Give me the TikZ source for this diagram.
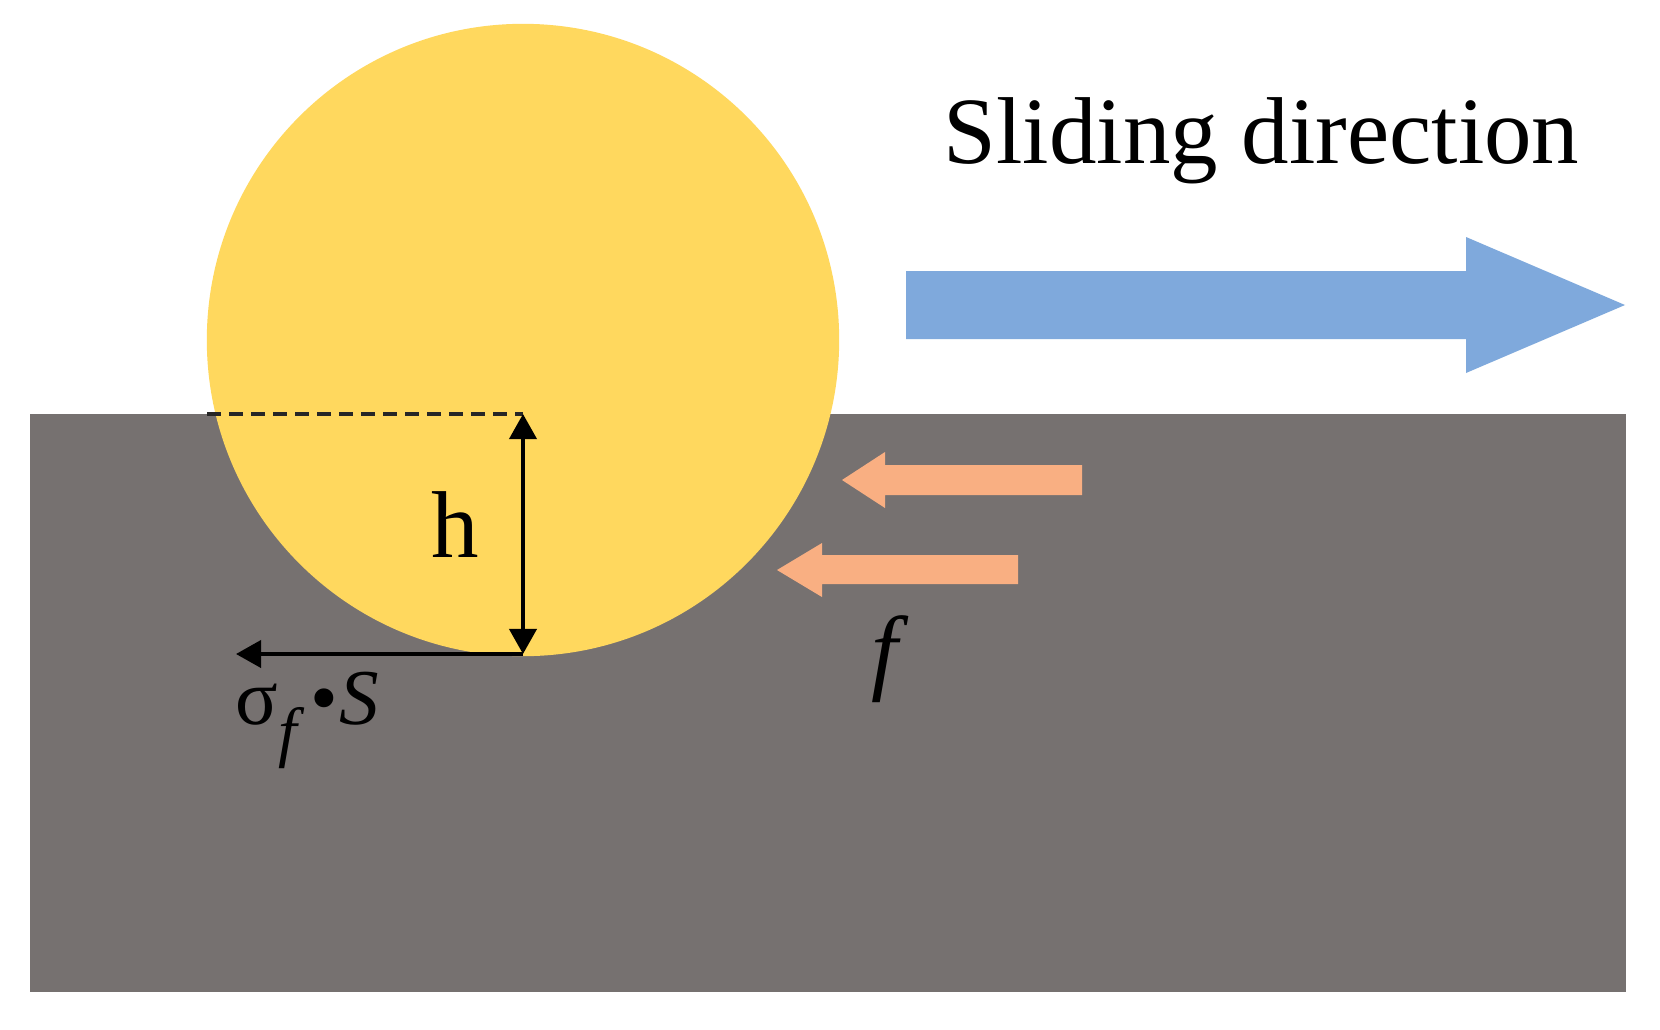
\documentclass[tikz,border=0pt]{standalone}
\usepackage{fontspec}
\setmainfont{Liberation Serif}
\usetikzlibrary{arrows.meta}
\definecolor{ballyellow}{HTML}{FFD85E}
\definecolor{subgray}{HTML}{767170}
\definecolor{slideblue}{HTML}{7FA9DC}
\definecolor{frictionorange}{HTML}{F9AF82}
\begin{document}
\begin{tikzpicture}[x=0.01cm,y=-0.01cm,
  >={Triangle[length=0.25cm,width=0.27cm]},
  dimline/.style={line width=1.1pt,black},
  dashline/.style={line width=1.3pt,black!85,dash pattern=on 0.14cm off 0.08cm},
  bigtext/.style={inner sep=0pt,font=\fontsize{27}{32}\selectfont},
  smalltext/.style={inner sep=0pt,font=\fontsize{22.5}{26}\selectfont}]
\useasboundingbox (0,0) rectangle (1660,1030);
\fill[white] (0,0) rectangle (1660,1030);
% substrate
\fill[subgray] (30,414) rectangle (1626,992);
% ball
\fill[ballyellow] (523,340) circle[radius=3.16cm];
% coordinates
\coordinate (dashstart) at (207,414);
\coordinate (htop) at (523,414);
\coordinate (hbot) at (523,654);
\coordinate (sigend) at (236,654);
% dimension lines
\draw[dashline] (dashstart) -- (htop);
\draw[dimline,<->] (htop) -- (hbot);
\draw[dimline,->] (hbot) -- (sigend);
% labels
\node[bigtext,anchor=base] (hlabel) at (455,557) {h};
\node[smalltext,anchor=base west] (siglabel) at (235,724) {σ\raisebox{-0.38em}{\fontsize{19}{19}\selectfont\itshape f}\,•\kern0.02em\textit{S}};
\node[bigtext,anchor=base] (flabel) at (890,682) {\textit{f}};
\node[bigtext,anchor=base west] (slidelabel) at (943,163) {Sliding direction};
% sliding direction arrow
\fill[slideblue] (906,271) -- (1466,271) -- (1466,237) -- (1625,305) -- (1466,373) -- (1466,339) -- (906,339) -- cycle;
% friction arrows
\fill[frictionorange] (1082,465) -- (885,465) -- (885,452) -- (842,480) -- (885,508) -- (885,495) -- (1082,495) -- cycle;
\fill[frictionorange] (1018,555) -- (822,555) -- (822,543) -- (777,570) -- (822,597) -- (822,584) -- (1018,584) -- cycle;
\end{tikzpicture}
\end{document}
